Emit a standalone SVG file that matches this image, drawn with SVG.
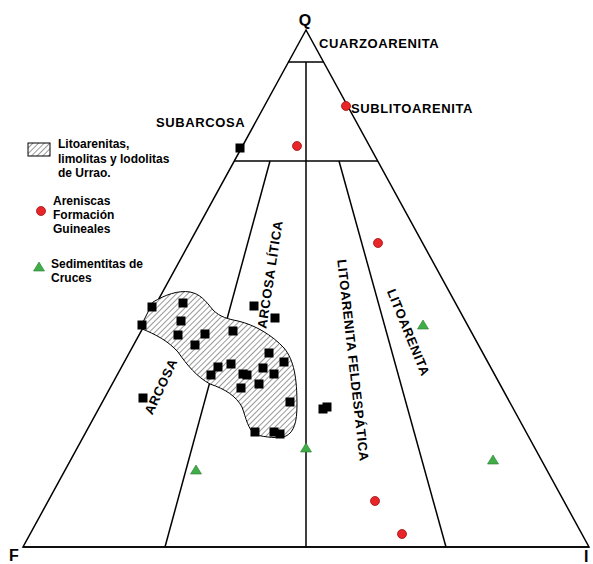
<svg xmlns="http://www.w3.org/2000/svg" width="593" height="564" viewBox="0 0 593 564">
<style>
.t{font-family:"Liberation Sans",Arial,sans-serif;font-weight:bold;fill:#000}
.lab{font-size:13px;letter-spacing:0.6px}
.leg{font-size:12px}
.ax{font-size:16px}
.ln{stroke:#000;stroke-width:1.5;fill:none}
.sq{fill:#000}
.rc{fill:#e8262a;stroke:#a01010;stroke-width:0.8}
.gt{fill:#3fae49;stroke:#2a7a30;stroke-width:0.6}
</style>
<defs>
<pattern id="hatch" patternUnits="userSpaceOnUse" width="4" height="4" patternTransform="rotate(45)">
<rect width="4" height="4" fill="#fff"/>
<line x1="0" y1="0" x2="0" y2="4" stroke="#000" stroke-width="0.8"/>
</pattern>
<rect id="s" x="-4.5" y="-4.5" width="9" height="9"/>
<polygon id="tri" points="0,-5 5.5,4 -5.5,4"/>
</defs>
<rect width="593" height="564" fill="#fff"/>

<g id="connectors">
<polygon class="ln" points="306,30 23,547 589,547"/>
<line class="ln" x1="23" y1="547" x2="589" y2="547" stroke-width="2"/>
<line class="ln" x1="288" y1="62" x2="323" y2="62"/>
<line class="ln" x1="234" y1="161" x2="378" y2="161"/>
<line class="ln" x1="306" y1="62" x2="306" y2="547"/>
<line class="ln" x1="270" y1="161" x2="165" y2="547"/>
<line class="ln" x1="339" y1="161" x2="446" y2="547"/>
</g>

<g id="urrao-field">
<path d="M153,302 C165,295 178,290 190,292 C200,294 205,300 213,310 C220,317 228,319 238,321 C255,325 272,335 284,348 C294,360 297,378 297,405 C297,422 294,432 286,436 C278,439 266,437 256,435 C248,430 246,418 242,407 C236,396 225,389 210,384 C197,377 187,365 178,352 C168,341 157,335 140,328 Z" fill="url(#hatch)" stroke="#000" stroke-width="1"/>
</g>

<g id="vertex-labels">
<text class="t ax" x="305" y="26" text-anchor="middle">Q</text>
<text class="t ax" x="9" y="561">F</text>
<text class="t ax" x="584" y="562">I</text>
</g>

<g id="field-labels">
<text class="t lab" x="319" y="48">CUARZOARENITA</text>
<text class="t lab" x="351" y="113">SUBLITOARENITA</text>
<text class="t lab" x="156" y="127">SUBARCOSA</text>
<text class="t lab" x="274.5" y="275" text-anchor="middle" transform="rotate(-81.4 274.5 275)">ARCOSA LÍTICA</text>
<text class="t lab" x="348.5" y="361" text-anchor="middle" transform="rotate(83.6 348.5 361)">LITOARENITA FELDESPÁTICA</text>
<text class="t lab" x="404.3" y="334.2" text-anchor="middle" transform="rotate(67.8 404.3 334.2)">LITOARENITA</text>
<text class="t lab" x="165" y="388.4" text-anchor="middle" transform="rotate(-64.9 165 388.4)">ARCOSA</text>
</g>

<g id="legend">
<rect x="28" y="143" width="22" height="13" fill="url(#hatch)" stroke="#000" stroke-width="1"/>
<text class="t leg" x="58" y="148">Litoarenitas,</text>
<text class="t leg" x="58" y="163">limolitas y lodolitas</text>
<text class="t leg" x="58" y="177">de Urrao.</text>
<circle class="rc" cx="41" cy="211" r="4.5"/>
<text class="t leg" x="53" y="205">Areniscas</text>
<text class="t leg" x="53" y="219">Formación</text>
<text class="t leg" x="53" y="233">Guineales</text>
<use href="#tri" class="gt" x="39" y="267"/>
<text class="t leg" x="51" y="268">Sedimentitas de</text>
<text class="t leg" x="51" y="282">Cruces</text>
</g>

<g id="urrao-points" class="sq">
<use href="#s" x="240" y="148"/>
<use href="#s" x="152" y="307"/>
<use href="#s" x="183" y="303"/>
<use href="#s" x="142" y="325"/>
<use href="#s" x="181" y="321"/>
<use href="#s" x="178" y="335"/>
<use href="#s" x="205" y="334"/>
<use href="#s" x="195" y="345"/>
<use href="#s" x="233" y="331"/>
<use href="#s" x="254" y="306"/>
<use href="#s" x="275" y="318"/>
<use href="#s" x="269" y="353"/>
<use href="#s" x="284" y="362"/>
<use href="#s" x="218" y="367"/>
<use href="#s" x="231" y="364"/>
<use href="#s" x="211" y="375"/>
<use href="#s" x="243" y="374"/>
<use href="#s" x="247" y="375"/>
<use href="#s" x="263" y="368"/>
<use href="#s" x="274" y="374"/>
<use href="#s" x="241" y="388"/>
<use href="#s" x="259" y="384"/>
<use href="#s" x="290" y="402"/>
<use href="#s" x="143" y="398"/>
<use href="#s" x="255" y="432"/>
<use href="#s" x="274" y="432"/>
<use href="#s" x="280" y="434"/>
<use href="#s" x="323" y="409"/>
<use href="#s" x="327" y="407"/>
</g>

<g id="guineales-points">
<circle class="rc" cx="346" cy="106" r="4.5"/>
<circle class="rc" cx="297" cy="146" r="4.5"/>
<circle class="rc" cx="378" cy="243" r="4.5"/>
<circle class="rc" cx="375" cy="501" r="4.5"/>
<circle class="rc" cx="402" cy="534" r="4.5"/>
</g>

<g id="cruces-points">
<use href="#tri" class="gt" x="423" y="325"/>
<use href="#tri" class="gt" x="306" y="448"/>
<use href="#tri" class="gt" x="196" y="470"/>
<use href="#tri" class="gt" x="493" y="460"/>
</g>
</svg>
